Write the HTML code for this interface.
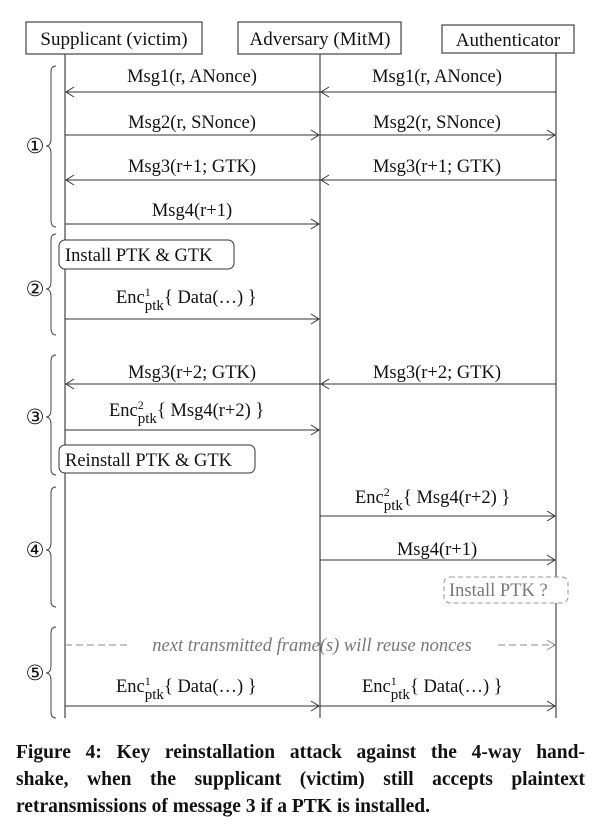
<!DOCTYPE html>
<html><head><style>
html,body{margin:0;padding:0;background:#fff;}
body{width:601px;height:839px;overflow:hidden;position:relative;}
svg{position:absolute;left:0;top:0;}
.cap{position:absolute;left:16px;top:739px;width:569px;font:bold 19.5px/27px "Liberation Serif",serif;color:#111;}
.cap div{text-align:justify;text-align-last:justify;white-space:nowrap;}
.cap div.l{text-align-last:left;}
</style></head><body>
<svg width="601" height="839" viewBox="0 0 601 839" font-family="Liberation Serif, serif" fill="#111">
<defs>
<marker id="a" markerWidth="10" markerHeight="12" refX="9" refY="6" orient="auto" markerUnits="userSpaceOnUse">
<path d="M1,1 L9,6 L1,11" fill="none" stroke="#333" stroke-width="1"/></marker>
<marker id="ag" markerWidth="10" markerHeight="12" refX="9" refY="6" orient="auto" markerUnits="userSpaceOnUse">
<path d="M1,1 L9,6 L1,11" fill="none" stroke="#888" stroke-width="1"/></marker>
</defs>
<g stroke="#444" stroke-width="1.2" fill="none">
<line x1="65" y1="54" x2="65" y2="718"/>
<line x1="320" y1="54" x2="320" y2="718"/>
<line x1="556" y1="52" x2="556" y2="718"/>
<rect x="26" y="22" width="176" height="32" fill="#fff"/>
<rect x="238" y="22" width="163" height="32" fill="#fff"/>
<rect x="442" y="25" width="132" height="28" fill="#fff"/>
</g>
<g font-size="19" text-anchor="middle">
<text x="114" y="45">Supplicant (victim)</text>
<text x="320" y="45">Adversary (MitM)</text>
<text x="508" y="46">Authenticator</text>
</g>
<g stroke="#333" stroke-width="1.1" fill="none">
<line x1="320" y1="92" x2="66" y2="92" marker-end="url(#a)"/>
<line x1="556" y1="92" x2="321" y2="92" marker-end="url(#a)"/>
<line x1="65" y1="135" x2="319" y2="135" marker-end="url(#a)"/>
<line x1="320" y1="135" x2="555" y2="135" marker-end="url(#a)"/>
<line x1="320" y1="180" x2="66" y2="180" marker-end="url(#a)"/>
<line x1="556" y1="180" x2="321" y2="180" marker-end="url(#a)"/>
<line x1="65" y1="224" x2="319" y2="224" marker-end="url(#a)"/>
<line x1="65" y1="319" x2="319" y2="319" marker-end="url(#a)"/>
<line x1="320" y1="384" x2="66" y2="384" marker-end="url(#a)"/>
<line x1="556" y1="384" x2="321" y2="384" marker-end="url(#a)"/>
<line x1="65" y1="430" x2="319" y2="430" marker-end="url(#a)"/>
<line x1="320" y1="516" x2="555" y2="516" marker-end="url(#a)"/>
<line x1="320" y1="560" x2="555" y2="560" marker-end="url(#a)"/>
<line x1="65" y1="706" x2="319" y2="706" marker-end="url(#a)"/>
<line x1="320" y1="706" x2="555" y2="706" marker-end="url(#a)"/>
</g>
<g stroke="#888" stroke-width="1" fill="none" stroke-dasharray="7,4">
<line x1="65" y1="645" x2="127" y2="645"/>
<line x1="498" y1="645" x2="555" y2="645" marker-end="url(#ag)"/>
</g>
<g font-size="18.5" text-anchor="middle">
<text x="192" y="82">Msg1(r, ANonce)</text>
<text x="437" y="82">Msg1(r, ANonce)</text>
<text x="192" y="128">Msg2(r, SNonce)</text>
<text x="437" y="128">Msg2(r, SNonce)</text>
<text x="192" y="172">Msg3(r+1; GTK)</text>
<text x="437" y="172">Msg3(r+1; GTK)</text>
<text x="192" y="216">Msg4(r+1)</text>
<text x="192" y="378">Msg3(r+2; GTK)</text>
<text x="437" y="378">Msg3(r+2; GTK)</text>
<text x="437" y="555">Msg4(r+1)</text>
</g>
<g font-size="18.5">
<text x="116" y="303">Enc<tspan font-size="12" dy="-7">1</tspan><tspan font-size="15" dx="-6" dy="14">ptk</tspan><tspan dy="-7">{ Data(…) }</tspan></text>
<text x="109" y="416">Enc<tspan font-size="12" dy="-7">2</tspan><tspan font-size="15" dx="-6" dy="14">ptk</tspan><tspan dy="-7">{ Msg4(r+2) }</tspan></text>
<text x="355" y="503">Enc<tspan font-size="12" dy="-7">2</tspan><tspan font-size="15" dx="-6" dy="14">ptk</tspan><tspan dy="-7">{ Msg4(r+2) }</tspan></text>
<text x="116" y="692">Enc<tspan font-size="12" dy="-7">1</tspan><tspan font-size="15" dx="-6" dy="14">ptk</tspan><tspan dy="-7">{ Data(…) }</tspan></text>
<text x="362" y="692">Enc<tspan font-size="12" dy="-7">1</tspan><tspan font-size="15" dx="-6" dy="14">ptk</tspan><tspan dy="-7">{ Data(…) }</tspan></text>
</g>
<text x="312" y="651" font-size="18.5" font-style="italic" fill="#777" text-anchor="middle">next transmitted frame(s) will reuse nonces</text>
<g stroke="#333" stroke-width="1" fill="#fff">
<rect x="59" y="240" width="175" height="29" rx="6"/>
<rect x="59" y="445" width="196" height="28" rx="6"/>
</g>
<rect x="444" y="577" width="124" height="26" rx="6" fill="#fff" stroke="#999" stroke-dasharray="5,3"/>
<g font-size="18.5">
<text x="65" y="261">Install PTK &amp; GTK</text>
<text x="65" y="466">Reinstall PTK &amp; GTK</text>
<text x="449" y="596" fill="#777">Install PTK ?</text>
</g>
<g stroke="#444" stroke-width="1" fill="none">
<path d="M56,66 Q51,66 51,72 L51,138 Q51,146 46,146 Q51,146 51,154 L51,220 Q51,227 56,227"/>
<path d="M56,234 Q51,234 51,240 L51,281 Q51,289 46,289 Q51,289 51,297 L51,328 Q51,335 56,335"/>
<path d="M56,355 Q51,355 51,361 L51,409 Q51,417 46,417 Q51,417 51,425 L51,469 Q51,475 56,475"/>
<path d="M56,487 Q51,487 51,493 L51,542 Q51,550 46,550 Q51,550 51,558 L51,601 Q51,607 56,607"/>
<path d="M56,627 Q51,627 51,633 L51,665 Q51,673 46,673 Q51,673 51,681 L51,712 Q51,718 56,718"/>
</g>
<g font-size="21" text-anchor="middle" font-family="DejaVu Sans, sans-serif">
<text x="35" y="153">①</text>
<text x="35" y="296">②</text>
<text x="35" y="424">③</text>
<text x="35" y="557">④</text>
<text x="35" y="680">⑤</text>
</g>
</svg>
<div class="cap">
<div>Figure 4: Key reinstallation attack against the 4-way hand-</div>
<div>shake, when the supplicant (victim) still accepts plaintext</div>
<div class="l">retransmissions of message 3 if a PTK is installed.</div>
</div>
</body></html>
